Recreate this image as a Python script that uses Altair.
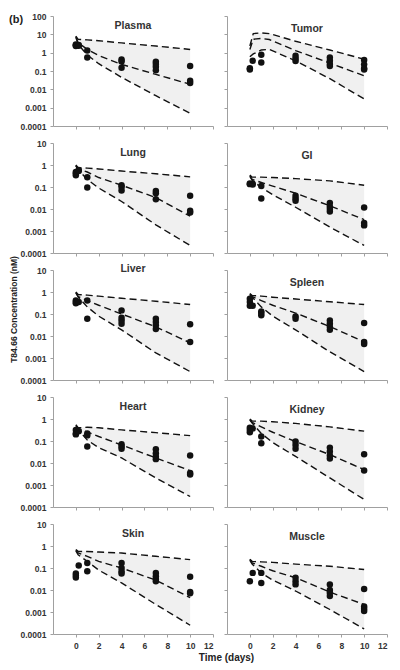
import math
import altair as alt
import pandas as pd

ORGANS = ["Plasma", "Tumor", "Lung", "GI", "Liver", "Spleen", "Heart", "Kidney", "Skin", "Muscle"]
CURVE_T = [0, 0.2, 1, 2, 4, 7, 10]
TUMOR_CURVE_T = [0, 0.3, 1, 1.7, 4, 7, 10]
X_TICKS = [0, 2, 4, 6, 8, 10, 12]

UPPER = {
    "Plasma": [8, 5.3, 5.0, 4.5, 3.4, 2.3, 1.5],
    "Tumor": [2.3, 11, 12, 11, 4.2, 1.4, 0.44],
    "Lung": [1.0, 0.75, 0.72, 0.66, 0.53, 0.4, 0.29],
    "GI": [0.35, 0.28, 0.28, 0.27, 0.24, 0.19, 0.12],
    "Liver": [1.0, 0.77, 0.72, 0.65, 0.52, 0.38, 0.27],
    "Spleen": [0.85, 0.69, 0.65, 0.58, 0.48, 0.36, 0.27],
    "Heart": [0.55, 0.4, 0.42, 0.4, 0.32, 0.24, 0.175],
    "Kidney": [1.0, 0.8, 0.8, 0.75, 0.63, 0.44, 0.28],
    "Skin": [0.7, 0.57, 0.56, 0.53, 0.48, 0.34, 0.24],
    "Muscle": [0.25, 0.2, 0.19, 0.18, 0.15, 0.12, 0.085],
}
MEDIAN = {
    "Plasma": [7.5, 3.5, 1.5, 0.7, 0.23, 0.065, 0.019],
    "Tumor": [1.5, 5.4, 6.0, 5.2, 1.3, 0.27, 0.055],
    "Lung": [0.95, 0.67, 0.48, 0.27, 0.12, 0.033, 0.0047],
    "GI": [0.33, 0.22, 0.16, 0.11, 0.052, 0.014, 0.0033],
    "Liver": [0.95, 0.62, 0.41, 0.25, 0.10, 0.026, 0.0049],
    "Spleen": [0.8, 0.62, 0.41, 0.25, 0.11, 0.027, 0.0054],
    "Heart": [0.5, 0.37, 0.26, 0.16, 0.066, 0.017, 0.0045],
    "Kidney": [0.95, 0.7, 0.44, 0.25, 0.094, 0.024, 0.005],
    "Skin": [0.65, 0.48, 0.34, 0.2, 0.1, 0.028, 0.0045],
    "Muscle": [0.24, 0.17, 0.12, 0.075, 0.036, 0.008, 0.0022],
}
LOWER = {
    "Plasma": [7, 2.8, 0.75, 0.25, 0.045, 0.0045, 0.0005],
    "Tumor": [0.6, 0.85, 1.4, 1.5, 0.36, 0.038, 0.003],
    "Lung": [0.9, 0.6, 0.22, 0.09, 0.022, 0.0019, 0.00022],
    "GI": [0.3, 0.2, 0.094, 0.045, 0.012, 0.0015, 0.00022],
    "Liver": [0.9, 0.6, 0.21, 0.08, 0.019, 0.0017, 0.00024],
    "Spleen": [0.75, 0.58, 0.21, 0.08, 0.019, 0.0019, 0.00024],
    "Heart": [0.45, 0.33, 0.11, 0.05, 0.017, 0.0021, 0.0003],
    "Kidney": [0.9, 0.65, 0.22, 0.085, 0.02, 0.0021, 0.00022],
    "Skin": [0.6, 0.4, 0.2, 0.08, 0.021, 0.0022, 0.00025],
    "Muscle": [0.22, 0.15, 0.06, 0.028, 0.009, 0.0013, 0.00017],
}
DOT_T = {
    "Plasma": [0, 0, 0, 0.25, 0.25, 1, 1, 4, 4, 4, 7, 7, 7, 7, 10, 10, 10],
    "Tumor": [0, 0, 0.25, 1, 1, 4, 4, 4, 7, 7, 7, 7, 10, 10, 10, 10],
    "Lung": [0, 0, 0, 0.25, 0.25, 1, 1, 4, 4, 4, 7, 7, 7, 10, 10, 10],
    "GI": [0, 0, 0.25, 0.25, 1, 1, 4, 4, 4, 7, 7, 7, 7, 10, 10, 10],
    "Liver": [0, 0, 0, 0.25, 1, 1, 4, 4, 4, 4, 7, 7, 7, 7, 10, 10],
    "Spleen": [0, 0, 0, 0.25, 1, 1, 1, 4, 4, 7, 7, 7, 7, 10, 10, 10],
    "Heart": [0, 0, 0, 0.25, 1, 1, 1, 4, 4, 4, 7, 7, 7, 7, 10, 10, 10],
    "Kidney": [0, 0, 0, 0.25, 1, 1, 4, 4, 4, 7, 7, 7, 7, 10, 10],
    "Skin": [0, 0, 0, 0.25, 1, 1, 4, 4, 4, 4, 7, 7, 7, 7, 10, 10, 10],
    "Muscle": [0, 0.25, 1, 1, 4, 4, 4, 7, 7, 7, 7, 10, 10, 10, 10],
}
DOT_V = {
    "Plasma": [2.8, 2.5, 2.3, 2.6, 2.4, 1.3, 0.55, 0.42, 0.33, 0.15, 0.32, 0.24, 0.17, 0.11, 0.19, 0.029, 0.022],
    "Tumor": [0.14, 0.12, 0.36, 0.76, 0.29, 0.67, 0.48, 0.35, 0.55, 0.36, 0.24, 0.19, 0.40, 0.23, 0.14, 0.12],
    "Lung": [0.48, 0.42, 0.34, 0.6, 0.53, 0.28, 0.094, 0.12, 0.1, 0.07, 0.066, 0.052, 0.028, 0.04, 0.0083, 0.007],
    "GI": [0.145, 0.135, 0.14, 0.13, 0.11, 0.03, 0.04, 0.03, 0.024, 0.019, 0.013, 0.0099, 0.0076, 0.0116, 0.0023, 0.0018],
    "Liver": [0.41, 0.35, 0.31, 0.35, 0.41, 0.061, 0.146, 0.068, 0.051, 0.036, 0.061, 0.043, 0.031, 0.021, 0.034, 0.0054],
    "Spleen": [0.49, 0.35, 0.24, 0.24, 0.13, 0.11, 0.087, 0.078, 0.061, 0.051, 0.036, 0.026, 0.019, 0.039, 0.0054, 0.0043],
    "Heart": [0.32, 0.22, 0.2, 0.28, 0.22, 0.18, 0.056, 0.071, 0.056, 0.044, 0.042, 0.028, 0.02, 0.015, 0.022, 0.0035, 0.003],
    "Kidney": [0.40, 0.32, 0.25, 0.37, 0.16, 0.079, 0.094, 0.066, 0.044, 0.05, 0.033, 0.022, 0.016, 0.025, 0.0046],
    "Skin": [0.056, 0.046, 0.037, 0.13, 0.17, 0.072, 0.17, 0.10, 0.072, 0.056, 0.06, 0.042, 0.032, 0.025, 0.04, 0.0082, 0.0072],
    "Muscle": [0.025, 0.06, 0.06, 0.021, 0.036, 0.025, 0.018, 0.018, 0.01, 0.0075, 0.0054, 0.011, 0.0018, 0.0014, 0.0011],
}

FONT = "Liberation Sans"
W, H = 160, 110


def panel(i, organ):
    row, col = divmod(i, 2)
    ts = TUMOR_CURVE_T if organ == "Tumor" else CURVE_T
    band = pd.DataFrame({"t": ts, "up": UPPER[organ], "lo": LOWER[organ]})
    curves = pd.DataFrame({
        "t": ts * 3,
        "v": UPPER[organ] + MEDIAN[organ] + LOWER[organ],
        "curve": ["upper"] * len(ts) + ["median"] * len(ts) + ["lower"] * len(ts),
    })
    dots = pd.DataFrame({"t": DOT_T[organ], "v": DOT_V[organ]})

    top = 100 if row == 0 else 10
    yticks = [10.0 ** k for k in range(-4, int(round(math.log10(top))) + 1)]
    xs = alt.Scale(domain=[-2, 12], nice=False, zero=False)
    ys = alt.Scale(type="log", domain=[0.0001, top], nice=False)

    xkw = dict(values=X_TICKS, labels=(row == 4))
    if row == 4 and col == 0:
        xkw.update(title="Time (days)", titleX=173, titleFontSize=10, titlePadding=3)
    else:
        xkw.update(title=None)
    ykw = dict(values=yticks, labels=(col == 0), format="~g")
    if organ == "Liver":
        ykw.update(title="T84.66 Concentration (nM)", titleY=39)
    else:
        ykw.update(title=None)

    X = alt.X("t:Q", scale=xs, axis=alt.Axis(**xkw))
    Y = alt.Y("v:Q", scale=ys, axis=alt.Axis(**ykw))

    area = alt.Chart(band).mark_area(color="#f0f0f0", opacity=1).encode(
        x=alt.X("t:Q", scale=xs, axis=alt.Axis(**xkw)),
        y=alt.Y("up:Q", scale=ys, axis=alt.Axis(**ykw)),
        y2="lo:Q",
    )
    lines = alt.Chart(curves).mark_line(
        color="#111111", strokeDash=[7, 4], strokeWidth=1.4
    ).encode(x=X, y=Y, detail="curve:N")
    pts = alt.Chart(dots).mark_circle(color="#111111", size=42, opacity=1).encode(x=X, y=Y)

    return alt.layer(area, lines, pts).properties(
        width=W,
        height=H,
        title=alt.TitleParams(
            text=organ, offset=-19, fontSize=10.5, font=FONT,
            fontWeight="bold", color="#333333", anchor="middle",
        ),
    )


panels = [panel(i, o) for i, o in enumerate(ORGANS)]

chart = alt.concat(
    *panels, columns=2, spacing={"row": 17, "column": 14}, bounds="flush"
).properties(
    title=alt.TitleParams(
        text="(b)", anchor="start", frame="bounds", offset=-13,
        fontSize=11, font=FONT, fontWeight="bold", color="#222222",
    ),
    padding={"left": 1, "top": 4, "right": 0, "bottom": 0},
).configure_view(stroke=None).configure_axis(
    grid=False,
    domainColor="#a0a0a0",
    tickColor="#a0a0a0",
    tickSize=3,
    labelFont=FONT,
    labelFontSize=8.5,
    labelFontWeight="bold",
    labelColor="#333333",
    labelPadding=4,
    titleFont=FONT,
    titleFontSize=8.5,
    titleFontWeight="bold",
    titleColor="#222222",
    titlePadding=2,
)

chart.save("out.html", embed_options={"renderer": "svg", "actions": False})
